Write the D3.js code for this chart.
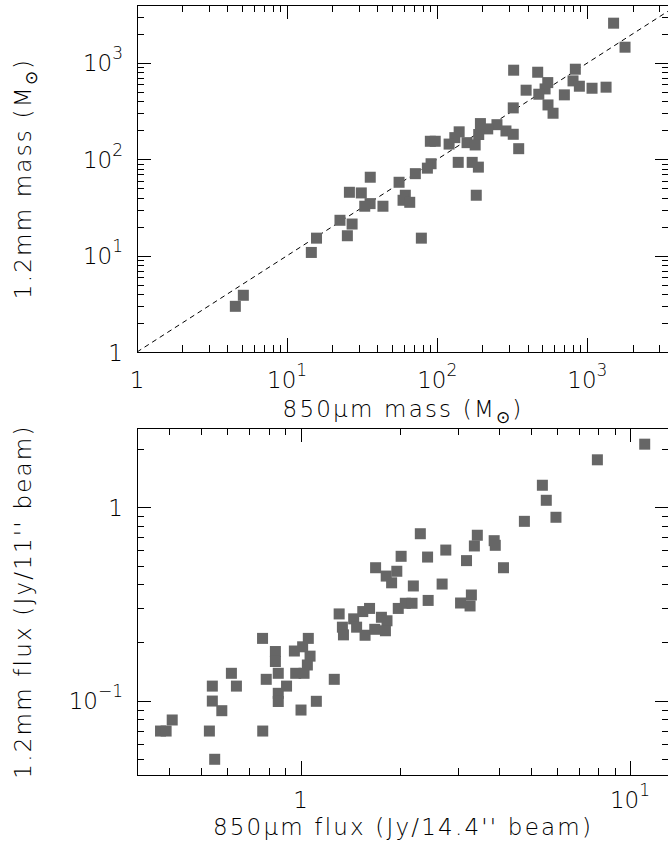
<!DOCTYPE html>
<html>
<head>
<meta charset="utf-8">
<script src="https://cdn.jsdelivr.net/npm/d3@7"></script>
<style>
  body { margin: 0; background: #fff; }
  svg text { font-family: "DejaVu Sans", "Liberation Sans", sans-serif; font-weight: 200; fill: #000; }
</style>
</head>
<body>
<svg id="chart" width="668" height="848"></svg>
<script>
// top panel: 850um mass vs 1.2mm mass (Msun)
const mass850 = [323, 467, 832, 391, 545, 523, 475, 803, 885, 1075, 1333, 703, 547, 591, 321,
  194, 250, 217, 287, 321, 189, 140, 131, 120, 158, 179, 90, 97, 349, 138, 171, 188, 91, 86,
  71.5, 55.7, 61.3, 59.2, 65.6, 35.8, 26, 31.2, 35.7, 32.9, 43.5, 22.5, 27.1, 25.2, 15.7, 14.5,
  78.4, 182, 1496, 1783, 5.11, 4.52];
const mass12 = [842, 802, 862, 522, 626, 538, 474, 652, 574, 547, 561, 467, 367, 301, 342,
  235, 229, 207, 197, 182, 181, 193, 168, 144, 149, 141, 154, 154, 129, 93, 93, 83, 90, 81,
  71, 57.8, 42.4, 37.6, 35.8, 65.2, 45.5, 44.8, 34.7, 32.6, 32.6, 23.3, 21.3, 16.1, 15.2, 10.8,
  15.2, 42.4, 2590, 1459, 3.88, 2.98];

// bottom panel: 850um flux (Jy/14.4" beam) vs 1.2mm flux (Jy/11" beam)
const flux850 = [11.08, 7.96, 5.42, 5.57, 5.96, 4.78, 2.31, 3.44, 3.37, 3.87, 3.90, 2.02, 2.43,
  2.76, 3.19, 4.13, 1.69, 1.82, 1.96, 1.89, 2.20, 2.69, 2.44, 3.30, 3.06, 3.27, 1.98, 2.08, 2.18,
  1.31, 1.34, 1.35, 1.45, 1.545, 1.62, 1.48, 1.57, 1.76, 1.83, 1.68, 1.81,
  0.376, 0.391, 0.408, 0.529, 0.540, 0.540, 0.577, 0.549, 0.617, 0.639, 0.767, 0.768, 0.787,
  0.839, 0.839, 0.856, 0.856, 0.856, 0.907, 0.958, 1.015, 1.056, 1.069, 1.049, 0.967, 1.025,
  1.0035, 1.117, 1.266];
const flux12 = [2.12, 1.76, 1.30, 1.087, 0.888, 0.846, 0.730, 0.717, 0.631, 0.672, 0.636, 0.558,
  0.553, 0.601, 0.530, 0.487, 0.487, 0.441, 0.467, 0.407, 0.392, 0.401, 0.330, 0.352, 0.320,
  0.309, 0.300, 0.319, 0.319,
  0.281, 0.240, 0.219, 0.265, 0.289, 0.300, 0.240, 0.218, 0.270, 0.259, 0.234, 0.230,
  0.0697, 0.0697, 0.0795, 0.0697, 0.119, 0.0996, 0.0888, 0.0498, 0.1386, 0.119, 0.210, 0.0697,
  0.129, 0.1796, 0.1595, 0.1386, 0.1092, 0.0991, 0.119, 0.1807, 0.190, 0.210, 0.170, 0.153,
  0.1386, 0.1386, 0.0895, 0.0993, 0.129];

// tick labels: [value, base, exponent]
const massTicks = [[1, '1', ''], [10, '10', '1'], [100, '10', '2'], [1000, '10', '3']];
const fluxXTicks = [[1, '1', ''], [10, '10', '1']];
const fluxYTicks = [[0.1, '10', '\u22121'], [1, '1', '']];
const oneToOne = [1, 3500];

const svg = d3.select('#chart');
const left = 137, right = 669;

function isMajor(v) {
  const l = Math.log10(v);
  return Math.abs(l - Math.round(l)) < 1e-6;
}

function addLabel(sel, base, exp) {
  sel.append('tspan').text(base);
  if (exp) sel.append('tspan').attr('dy', -12).attr('font-size', 17).text(exp);
}

function drawPanel(cfg) {
  const g = svg.append('g');
  const x = d3.scaleLog().domain(cfg.xDomain).range([left, right]);
  const y = d3.scaleLog().domain(cfg.yDomain).range([cfg.bottom, cfg.top]);

  const xMinor = x.ticks().filter(v => !isMajor(v));
  const xMajor = x.ticks().filter(isMajor);
  const yMinor = y.ticks().filter(v => !isMajor(v));
  const yMajor = y.ticks().filter(isMajor);

  // ticks on all four sides, pointing inwards
  const axes = [
    [d3.axisBottom, x, `translate(0,${cfg.bottom})`, xMajor, xMinor],
    [d3.axisTop, x, `translate(0,${cfg.top})`, xMajor, xMinor],
    [d3.axisLeft, y, `translate(${left},0)`, yMajor, yMinor],
    [d3.axisRight, y, `translate(${right},0)`, yMajor, yMinor]
  ];
  axes.forEach(([fn, sc, tr, maj, min]) => {
    [[maj, 14], [min, 7]].forEach(([vals, len]) => {
      const a = g.append('g').attr('transform', tr)
        .call(fn(sc).tickValues(vals).tickSize(-len).tickSizeOuter(0).tickFormat(''));
      a.select('.domain').remove();
      a.selectAll('line').attr('stroke', '#000').attr('shape-rendering', 'crispEdges');
    });
  });

  g.append('rect')
    .attr('x', left + 0.5).attr('y', cfg.top + 0.5)
    .attr('width', right - left).attr('height', cfg.bottom - cfg.top)
    .attr('fill', 'none').attr('stroke', '#000').attr('shape-rendering', 'crispEdges');

  if (cfg.line) {
    g.append('path')
      .datum(cfg.line)
      .attr('d', d3.line().x(d => x(d)).y(d => y(d)))
      .attr('fill', 'none').attr('stroke', '#000').attr('stroke-width', 1)
      .attr('stroke-dasharray', '5,4');
  }

  const s = 11;
  g.selectAll('rect.pt')
    .data(cfg.xs.map((v, i) => [v, cfg.ys[i]]))
    .enter().append('rect')
    .attr('class', 'pt')
    .attr('x', d => x(d[0]) - s / 2)
    .attr('y', d => y(d[1]) - s / 2)
    .attr('width', s).attr('height', s)
    .attr('fill', '#666');

  // tick labels
  cfg.xTicks.forEach(([v, b, e]) => {
    const t = g.append('text').attr('x', x(v)).attr('y', cfg.bottom + cfg.xTickDy)
      .attr('text-anchor', 'middle').attr('font-size', 23);
    addLabel(t, b, e);
  });
  cfg.yTicks.forEach(([v, b, e]) => {
    const t = g.append('text').attr('x', 123).attr('y', y(v) + 8.5)
      .attr('text-anchor', 'end').attr('font-size', 23);
    addLabel(t, b, e);
  });

  // axis titles
  const xt = g.append('text').attr('x', (left + right) / 2).attr('y', cfg.xTitleY)
    .attr('text-anchor', 'middle').attr('font-size', 23).attr('letter-spacing', 2.2);
  cfg.xTitle(xt);
  const yt = g.append('text')
    .attr('transform', `translate(31,${(cfg.top + cfg.bottom) / 2}) rotate(-90)`)
    .attr('text-anchor', 'middle').attr('font-size', 23).attr('letter-spacing', 2.2);
  cfg.yTitle(yt);
}

function sunUnit(t) {
  t.append('tspan').text('(M');
  t.append('tspan').attr('font-size', 17).attr('dy', 6).text('\u2299');
  t.append('tspan').attr('dy', -6).text(')');
}

drawPanel({
  top: 5, bottom: 352,
  xDomain: [1, 3500], yDomain: [1, 4000],
  xs: mass850, ys: mass12, line: oneToOne,
  xTicks: massTicks, yTicks: massTicks, xTickDy: 36, xTitleY: 417,
  xTitle: t => {
    t.append('tspan').text('850\u03bcm mass ');
    sunUnit(t);
  },
  yTitle: t => {
    t.append('tspan').text('1.2mm mass ');
    sunUnit(t);
  }
});

drawPanel({
  top: 428, bottom: 775,
  xDomain: [0.319, 13.13], yDomain: [0.0413, 2.57],
  xs: flux850, ys: flux12,
  xTicks: fluxXTicks, yTicks: fluxYTicks, xTickDy: 33, xTitleY: 835,
  xTitle: t => {
    t.append('tspan').text("850\u03bcm flux (Jy/14.4'' beam)");
  },
  yTitle: t => {
    t.append('tspan').text("1.2mm flux (Jy/11'' beam)");
  }
});
</script>
</body>
</html>
